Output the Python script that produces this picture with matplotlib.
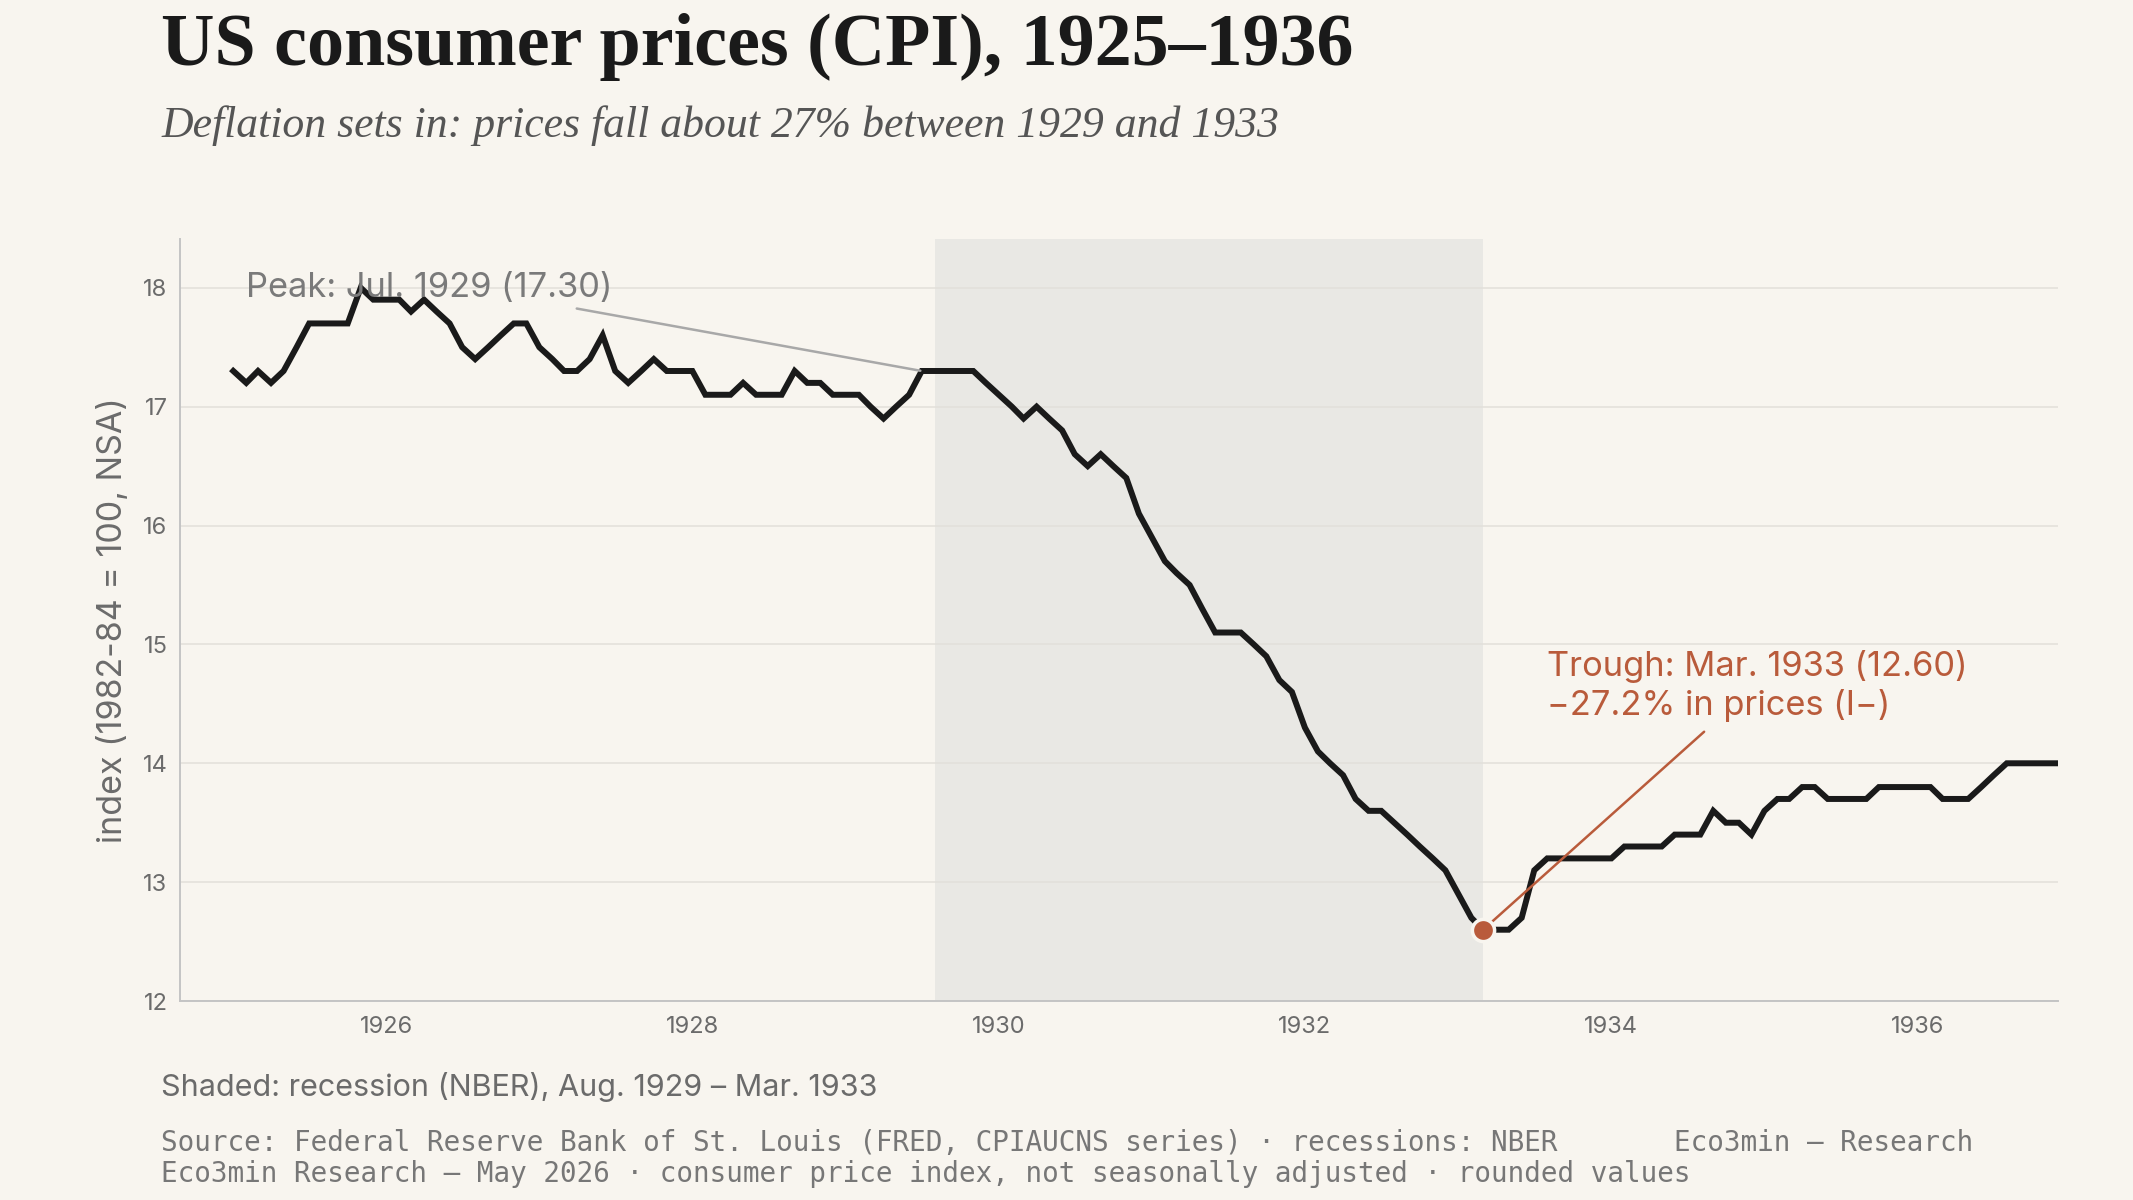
import matplotlib
matplotlib.use("Agg")
import matplotlib.pyplot as plt
import matplotlib.dates as mdates
import numpy as np
import pandas as pd

# CPIAUCNS, monthly, Jan 1925 - Dec 1936 (1982-84 = 100)
cpi_1925 = [17.3, 17.2, 17.3, 17.2, 17.3, 17.5, 17.7, 17.7, 17.7, 17.7, 18.0, 17.9]
cpi_1926 = [17.9, 17.9, 17.8, 17.9, 17.8, 17.7, 17.5, 17.4, 17.5, 17.6, 17.7, 17.7]
cpi_1927 = [17.5, 17.4, 17.3, 17.3, 17.4, 17.6, 17.3, 17.2, 17.3, 17.4, 17.3, 17.3]
cpi_1928 = [17.3, 17.1, 17.1, 17.1, 17.2, 17.1, 17.1, 17.1, 17.3, 17.2, 17.2, 17.1]
cpi_1929 = [17.1, 17.1, 17.0, 16.9, 17.0, 17.1, 17.3, 17.3, 17.3, 17.3, 17.3, 17.2]
cpi_1930 = [17.1, 17.0, 16.9, 17.0, 16.9, 16.8, 16.6, 16.5, 16.6, 16.5, 16.4, 16.1]
cpi_1931 = [15.9, 15.7, 15.6, 15.5, 15.3, 15.1, 15.1, 15.1, 15.0, 14.9, 14.7, 14.6]
cpi_1932 = [14.3, 14.1, 14.0, 13.9, 13.7, 13.6, 13.6, 13.5, 13.4, 13.3, 13.2, 13.1]
cpi_1933 = [12.9, 12.7, 12.6, 12.6, 12.6, 12.7, 13.1, 13.2, 13.2, 13.2, 13.2, 13.2]
cpi_1934 = [13.2, 13.3, 13.3, 13.3, 13.3, 13.4, 13.4, 13.4, 13.6, 13.5, 13.5, 13.4]
cpi_1935 = [13.6, 13.7, 13.7, 13.8, 13.8, 13.7, 13.7, 13.7, 13.7, 13.8, 13.8, 13.8]
cpi_1936 = [13.8, 13.8, 13.7, 13.7, 13.7, 13.8, 13.9, 14.0, 14.0, 14.0, 14.0, 14.0]

cpi = (cpi_1925 + cpi_1926 + cpi_1927 + cpi_1928 + cpi_1929 + cpi_1930
       + cpi_1931 + cpi_1932 + cpi_1933 + cpi_1934 + cpi_1935 + cpi_1936)
dates = pd.date_range("1925-01-01", periods=len(cpi), freq="MS")

recession_start = pd.Timestamp("1929-08-01")
recession_end = pd.Timestamp("1933-03-01")
peak_date = pd.Timestamp("1929-07-01")
trough_date = pd.Timestamp("1933-03-01")

s = pd.Series(cpi, index=dates)
peak_val = s[peak_date]
trough_val = s[trough_date]
change = (trough_val / peak_val - 1) * 100

BG = "#f8f5ef"
INK = "#1a1a1a"
GREY = "#6b6b6b"
RUST = "#b95b3b"

plt.rcParams["font.family"] = ["Inter", "DejaVu Sans"]

fig = plt.figure(figsize=(21.33, 12), dpi=100, facecolor=BG)
ax = fig.add_axes([0.0844, 0.1658, 0.8804, 0.635])
ax.set_facecolor(BG)

ax.axvspan(recession_start, recession_end, color="#e9e8e4", zorder=0, lw=0)
ax.plot(s.index, s.values, color=INK, lw=4.3, zorder=3, solid_joinstyle="miter")

ax.plot([trough_date], [trough_val], "o", ms=16, color=RUST,
        mec=BG, mew=2.5, zorder=5)

ax.set_ylim(12, 18.41)
ax.set_xlim(pd.Timestamp("1924-08-27"), pd.Timestamp("1936-12-01"))
ax.set_yticks(np.arange(12, 19, 1))
ax.xaxis.set_major_locator(mdates.YearLocator(2))
ax.xaxis.set_major_formatter(mdates.DateFormatter("%Y"))

ax.grid(axis="y", color="#e2dfda", lw=1.1, zorder=1)
ax.set_axisbelow(True)
for sp in ["top", "right"]:
    ax.spines[sp].set_visible(False)
for sp in ["left", "bottom"]:
    ax.spines[sp].set_color("#c4c4c4")
    ax.spines[sp].set_linewidth(1.4)
ax.tick_params(length=0, labelsize=17, labelcolor=GREY)
ax.tick_params(axis="x", pad=11)
ax.tick_params(axis="y", pad=9)

# annotations
ax.annotate(f"Peak: {peak_date:%b}. {peak_date:%Y} ({peak_val:.2f})",
            xy=(peak_date, peak_val), xytext=(pd.Timestamp("1925-02-01"), 18.0),
            textcoords="data", ha="left", va="center", fontsize=24.8, color="#7a7a7a",
            arrowprops=dict(arrowstyle="-", color="#a8a8a8", lw=1.8,
                            relpos=(0.83, 0.0), shrinkA=8, shrinkB=1), zorder=4)

ax.annotate(f"Trough: {trough_date:%b}. {trough_date:%Y} ({trough_val:.2f})\n"
            f"\u2212{abs(change):.1f}% in prices (I\u2212)",
            xy=(trough_date, trough_val), xytext=(pd.Timestamp("1933-08-01"), 14.95),
            textcoords="data", ha="left", va="top", fontsize=24.8, color=RUST,
            linespacing=1.2,
            arrowprops=dict(arrowstyle="-", color=RUST, lw=1.8,
                            relpos=(0.4, 0.0), shrinkA=8, shrinkB=8), zorder=4)

fig.text(113 / 2133, 0.4833, "index (1982-84 = 100, NSA)", rotation=90,
         ha="center", va="center", fontsize=24.5, color=GREY)

fig.text(0.0755, 0.946, "US consumer prices (CPI), 1925\u20131936",
         family=["Liberation Serif", "DejaVu Serif"], weight="bold",
         fontsize=53.3, color=INK, ha="left", va="baseline")
fig.text(0.0755, 0.886,
         "Deflation sets in: prices fall about 27% between 1929 and 1933",
         family=["Liberation Serif", "DejaVu Serif"], style="italic",
         fontsize=31.5, color="#555555", ha="left", va="baseline")

fig.text(0.0755, 0.094, "Shaded: recession (NBER), Aug. 1929 \u2013 Mar. 1933",
         fontsize=22, color=GREY, ha="left", va="center")

mono = ["DejaVu Sans Mono"]
fig.text(0.0755, 0.0475,
         "Source: Federal Reserve Bank of St. Louis (FRED, CPIAUCNS series) \u00b7 recessions: NBER",
         family=mono, fontsize=19.9, color="#777777", ha="left", va="center")
fig.text(0.785, 0.0475, "Eco3min \u2014 Research",
         family=mono, fontsize=19.9, color="#777777", ha="left", va="center")
fig.text(0.0755, 0.0217,
         "Eco3min Research \u2014 May 2026 \u00b7 consumer price index, not seasonally adjusted \u00b7 rounded values",
         family=mono, fontsize=19.9, color="#777777", ha="left", va="center")

fig.savefig("out.png", dpi=100, facecolor=BG)
